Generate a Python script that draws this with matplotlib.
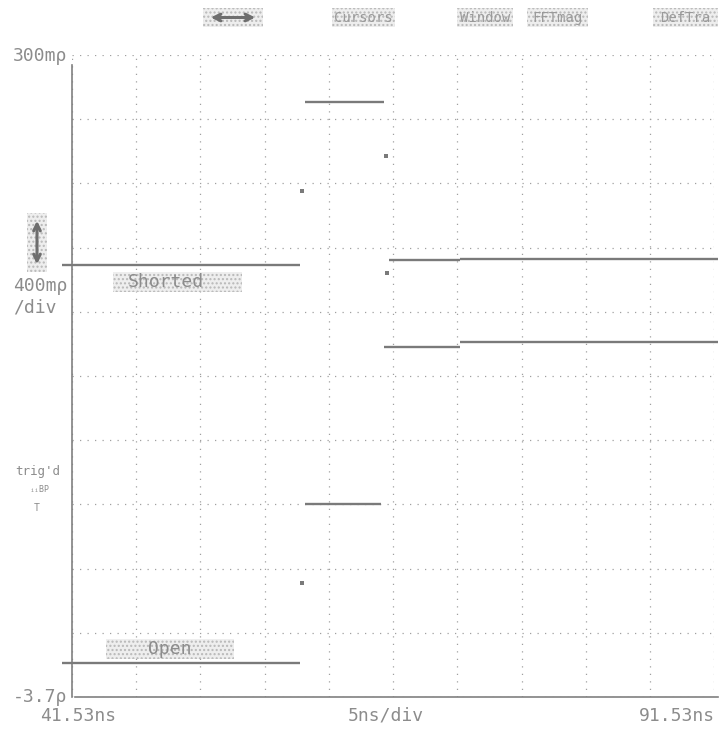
import numpy as np
import matplotlib
matplotlib.use('Agg')
import matplotlib.pyplot as plt
from matplotlib.patches import Rectangle, FancyArrowPatch

# 示波器 TDR 截图复刻: Shorted / Open 两条反射曲线
W, H = 722, 729

# 时间轴 (ns) 与反射系数轴 (rho)
t_left, t_right, t_div = 41.53, 91.53, 5.0
rho_top, rho_bot, rho_div = 0.3, -3.7, 0.4

# 每条曲线: 水平段 (起点 ns, 终点 ns, rho) 和过渡点 (ns, rho)
short_t0 = [40.77, 59.68, 66.22, 71.75]
short_t1 = [59.29, 65.83, 71.75, 91.83]
short_rho = [-1.01, 0.01, -0.98, -0.97]
short_dot_t = [59.45, 65.98, 66.06]
short_dot_rho = [-0.55, -0.33, -1.06]

open_t0 = [40.77, 59.68, 65.83, 71.75]
open_t1 = [59.29, 65.59, 71.75, 91.83]
open_rho = [-3.49, -2.50, -1.52, -1.49]
open_dot_t = [59.45]
open_dot_rho = [-2.99]

menu_labels = ['Cursors', 'Window', 'FFTmag', 'DefTra']

txt_c = '#8c8c8c'
trace_c = '#7a7a7a'
FONT = 'DejaVu Sans Mono'


def fx(x):
    return x / W


def fy(y):
    return 1 - y / H


fig = plt.figure(figsize=(W / 100, H / 100), dpi=100)
fig.patch.set_facecolor('white')

ax = fig.add_axes([fx(71.75), fy(697), (714.25 - 71.75) / W, 642 / H])
ax.set_xlim(t_left, t_right)
ax.set_ylim(rho_bot, rho_top)
ax.set_xticks(np.arange(t_left, t_right + 0.01, t_div))
ax.set_yticks(np.arange(rho_bot, rho_top + 0.01, rho_div))
ax.tick_params(length=0, labelleft=False, labelbottom=False)
ax.grid(True, color='#a0a0a0', linestyle=(0, (1, 5)), linewidth=0.9)
for s in ['top', 'right', 'bottom']:
    ax.spines[s].set_visible(False)
ax.spines['left'].set_color('#808080')
ax.spines['left'].set_linewidth(1.2)
ax.spines['left'].set_bounds(rho_bot, 0.24)
ax.plot([t_left + 0.25, 91.83], [rho_bot, rho_bot], color='#808080', lw=1.2,
        clip_on=False, zorder=3)

# 曲线
for t0s, t1s, rs, dts, drs in [(short_t0, short_t1, short_rho, short_dot_t, short_dot_rho),
                               (open_t0, open_t1, open_rho, open_dot_t, open_dot_rho)]:
    for a, b, r in zip(t0s, t1s, rs):
        ax.plot([a, b], [r, r], color=trace_c, lw=1.7, solid_capstyle='butt',
                clip_on=False, zorder=4)
    ax.plot(dts, drs, 's', color=trace_c, ms=2.4, mew=0, clip_on=False, zorder=4)


def box(x0, y0, x1, y1):
    r = Rectangle((fx(x0), fy(y1)), (x1 - x0) / W, (y1 - y0) / H,
                  transform=fig.transFigure, facecolor='#eeeeee',
                  edgecolor='#b8b8b8', hatch='....', lw=0, zorder=1)
    fig.patches.append(r)


def label(x, y, s, size=13, ha='left', color=txt_c):
    fig.text(fx(x), fy(y), s, ha=ha, va='center', fontsize=size,
             family=FONT, color=color, zorder=5)


# 顶部菜单
box(203, 8, 263, 27)
fig.patches.append(FancyArrowPatch((fx(208), fy(17.5)), (fx(258), fy(17.5)),
                                   transform=fig.transFigure, arrowstyle='<->',
                                   mutation_scale=12, color='#6e6e6e', lw=2.2))
menu_boxes = [(332, 395), (457, 513), (527, 588), (653, 718)]
for (x0, x1), s in zip(menu_boxes, menu_labels):
    box(x0, 8, x1, 27)
    label((x0 + x1) / 2, 18, s, size=10, ha='center', color='#9a9a9a')

# 左侧刻度说明
label(13, 56, '300mρ')
box(27, 213, 47, 272)
fig.patches.append(FancyArrowPatch((fx(37), fy(218)), (fx(37), fy(267)),
                                   transform=fig.transFigure, arrowstyle='<->',
                                   mutation_scale=12, color='#6e6e6e', lw=2.2))
label(13, 286, '400mρ')
label(13, 307, '/div')
label(15, 472, "trig'd", size=9)
label(30, 489, 'ᵢᵢBP', size=6)
label(34, 508, 'T', size=7)
label(13, 697, '-3.7ρ')

# 底部时间标注
label(40, 716, '41.53ns')
label(348, 716, '5ns/div')
label(715, 716, '91.53ns', ha='right')

# 曲线名称
box(113, 272, 242, 292)
label(128, 282, 'Shorted')
box(106, 639, 234, 659)
label(148, 649, 'Open')

fig.savefig('out.png', dpi=100)
